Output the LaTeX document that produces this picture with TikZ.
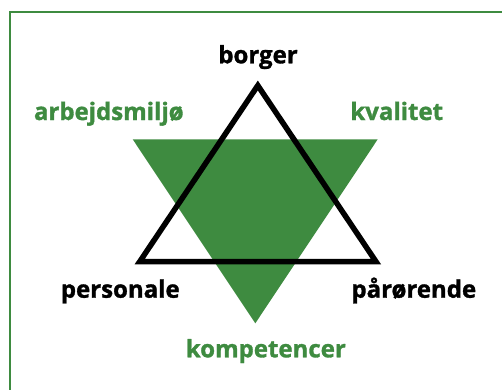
\documentclass[tikz,border=0pt]{standalone}
\usepackage{fontspec}
\setmainfont{Open Sans}[BoldFeatures={FakeBold=1.3}]
\definecolor{grn}{RGB}{62,139,64}
\begin{document}
\begin{tikzpicture}[x=1pt,y=1pt,
  lbl/.style={anchor=base,inner sep=0pt,font=\fontsize{24}{28}\selectfont\bfseries},
  glbl/.style={lbl,text=grn},
  blbl/.style={lbl,text=black}]
\useasboundingbox (0,0) rectangle (502,389);
\clip (0,0) rectangle (502,389);
\fill[white] (0,0) rectangle (502,389);
\draw[grn,line width=2pt] (10,377) rectangle (530,-30);
% green inverted triangle
\coordinate (g1) at (132.7,249.7);
\coordinate (g2) at (377.7,249.7);
\coordinate (g3) at (255.3,65.7);
\fill[grn] (g1) -- (g2) -- (g3) -- cycle;
% black triangle
\coordinate (b1) at (257.8,303.5);
\coordinate (b2) at (139.8,127.5);
\coordinate (b3) at (375.9,127.5);
\draw[black,line width=5.5pt,line join=miter] (b1) -- (b2) -- (b3) -- cycle;
% labels
\node[blbl] (borger) at (258,325.7) {borger};
\node[glbl] (arb) at (108.8,269) {arbejdsmiljø};
\node[glbl] (kval) at (396.7,269) {kvalitet};
\node[blbl] (pers) at (120.3,91.3) {personale};
\node[blbl] (paar) at (413.8,91.3) {pårørende};
\node[glbl] (komp) at (265.8,31.7) {kompetencer};
\end{tikzpicture}
\end{document}
